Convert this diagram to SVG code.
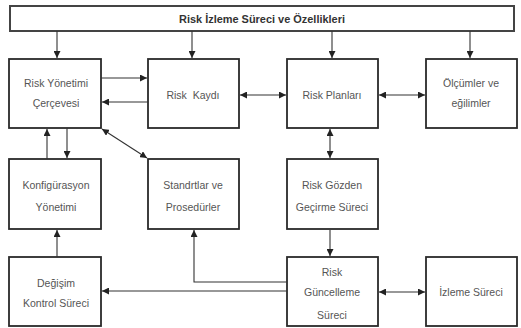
<svg xmlns="http://www.w3.org/2000/svg" width="521" height="328" viewBox="0 0 521 328">
<defs>
<marker id="ah" viewBox="0 0 10 10" refX="10" refY="5" markerWidth="7" markerHeight="7" orient="auto-start-reverse" markerUnits="userSpaceOnUse">
<path d="M0,0 L10,5 L0,10 z" fill="#222"/>
</marker>
<style>
.box{fill:#fff;stroke:#2a2a2a;stroke-width:1.8}
.bar{fill:#fff;stroke:#444;stroke-width:2}
.t{font-family:"Liberation Sans",Arial,sans-serif;font-size:10.5px;fill:#555;text-anchor:middle}
.tb{font-family:"Liberation Sans",Arial,sans-serif;font-size:10.5px;font-weight:bold;fill:#333;text-anchor:middle}
.c{fill:none;stroke:#333;stroke-width:1.1}
</style>
</defs>
<rect width="521" height="328" fill="#fff"/>
<g id="title">
<rect class="bar" x="10" y="6" width="504" height="25"/>
<text class="tb" x="262" y="23" textLength="166" lengthAdjust="spacingAndGlyphs">Risk İzleme Süreci ve Özellikleri</text>
</g>
<g id="n-ryc">
<rect class="box" x="9" y="59" width="92" height="69"/>
<text class="t" x="56" y="87">Risk Yönetimi</text>
<text class="t" x="56" y="107">Çerçevesi</text>
</g>
<g id="n-rk">
<rect class="box" x="148" y="59" width="91" height="69"/>
<text class="t" x="193" y="99" xml:space="preserve">Risk  Kaydı</text>
</g>
<g id="n-rp">
<rect class="box" x="287" y="59" width="91" height="69"/>
<text class="t" x="332" y="99">Risk Planları</text>
</g>
<g id="n-oe">
<rect class="box" x="426" y="59" width="91" height="69"/>
<text class="t" x="471" y="87">Ölçümler ve</text>
<text class="t" x="471" y="107">eğilimler</text>
</g>
<g id="n-ky">
<rect class="box" x="9" y="159" width="92" height="70"/>
<text class="t" x="56" y="189">Konfigürasyon</text>
<text class="t" x="56" y="211">Yönetimi</text>
</g>
<g id="n-sp">
<rect class="box" x="148" y="159" width="91" height="70"/>
<text class="t" x="193" y="189">Standrtlar ve</text>
<text class="t" x="193" y="211">Prosedürler</text>
</g>
<g id="n-rg">
<rect class="box" x="287" y="159" width="91" height="70"/>
<text class="t" x="332" y="189">Risk Gözden</text>
<text class="t" x="332" y="211">Geçirme Süreci</text>
</g>
<g id="n-dk">
<rect class="box" x="9" y="257" width="92" height="69"/>
<text class="t" x="56" y="287">Değişim</text>
<text class="t" x="56" y="307">Kontrol Süreci</text>
</g>
<g id="n-rgs">
<rect class="box" x="287" y="257" width="91" height="69"/>
<text class="t" x="332" y="276">Risk</text>
<text class="t" x="332" y="296">Güncelleme</text>
<text class="t" x="332" y="319">Süreci</text>
</g>
<g id="n-is">
<rect class="box" x="426" y="257" width="91" height="69"/>
<text class="t" x="471" y="296">İzleme Süreci</text>
</g>
<g id="connectors">
<line class="c" x1="57" y1="31" x2="57" y2="58" marker-end="url(#ah)"/>
<line class="c" x1="192" y1="31" x2="192" y2="58" marker-end="url(#ah)"/>
<line class="c" x1="332" y1="31" x2="332" y2="58" marker-end="url(#ah)"/>
<line class="c" x1="470" y1="31" x2="470" y2="58" marker-end="url(#ah)"/>
<line class="c" x1="101" y1="78" x2="147" y2="78" marker-end="url(#ah)"/>
<line class="c" x1="148" y1="102" x2="102" y2="102" marker-end="url(#ah)"/>
<line class="c" x1="240" y1="95" x2="286" y2="95" marker-start="url(#ah)" marker-end="url(#ah)"/>
<line class="c" x1="379" y1="95" x2="425" y2="95" marker-start="url(#ah)" marker-end="url(#ah)"/>
<line class="c" x1="47" y1="159" x2="47" y2="129" marker-end="url(#ah)"/>
<line class="c" x1="67" y1="128" x2="67" y2="158" marker-end="url(#ah)"/>
<line class="c" x1="102" y1="129" x2="147" y2="158" marker-start="url(#ah)" marker-end="url(#ah)"/>
<line class="c" x1="330" y1="129" x2="330" y2="158" marker-start="url(#ah)" marker-end="url(#ah)"/>
<line class="c" x1="57" y1="257" x2="57" y2="230" marker-end="url(#ah)"/>
<line class="c" x1="330" y1="230" x2="330" y2="256" marker-end="url(#ah)"/>
<line class="c" x1="287" y1="291" x2="102" y2="291" marker-end="url(#ah)"/>
<polyline class="c" points="287,282 194,282 194,230" marker-end="url(#ah)"/>
<line class="c" x1="379" y1="292" x2="425" y2="292" marker-start="url(#ah)" marker-end="url(#ah)"/>
</g>
</svg>
